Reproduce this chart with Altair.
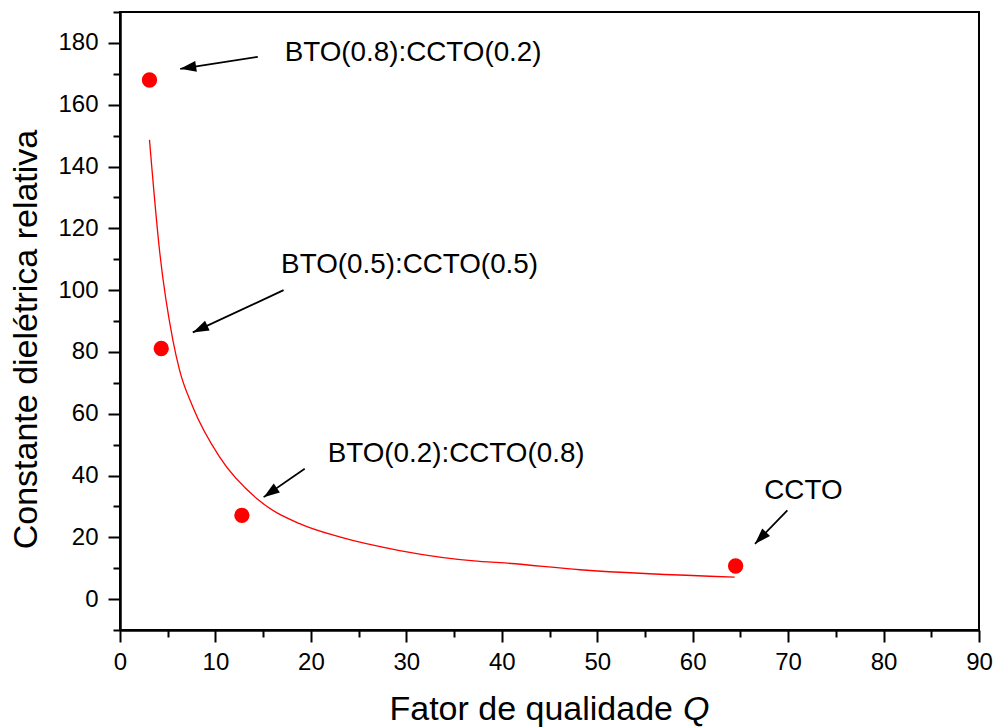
import math
import altair as alt
import pandas as pd

# measured points
pts_x = [3.09, 4.32, 12.77, 64.5]
pts_y = [168.0, 81.1, 27.1, 10.7]

# fitted curve
fit_x = [3.09, 4.14, 5.54, 6.24, 7.63, 10.43, 14.45, 18.82, 23.01, 29.3, 37.7, 39.8, 48.2, 64.4]
fit_y = [148.6, 112.9, 83.8, 74.1, 62.2, 46.0, 32.2, 24.4, 20.1, 15.7, 12.2, 11.8, 9.5, 7.1]

# annotations
ann_text = ["BTO(0.8):CCTO(0.2)", "BTO(0.5):CCTO(0.5)", "BTO(0.2):CCTO(0.8)", "CCTO"]
ann_x = [17.25, 16.88, 21.76, 67.5]
ann_y = [174.0, 105.4, 44.4, 32.5]
tail_x = [14.44, 17.14, 19.35, 69.92]
tail_y = [175.5, 100.0, 42.2, 28.7]
tip_x = [6.31, 7.63, 15.05, 66.53]
tip_y = [171.6, 86.3, 33.0, 17.9]

# tick values
x_major = list(range(0, 100, 10))
x_minor = list(range(5, 90, 10))
y_major = list(range(0, 200, 20))
y_minor = list(range(-10, 200, 20))

X_DOM = [0, 90]
Y_DOM = [-10, 190]
W, H = 859, 618
FONT = "Liberation Sans"

px_per_x = W / (X_DOM[1] - X_DOM[0])
px_per_y = H / (Y_DOM[1] - Y_DOM[0])
angles = []
for tx, ty, hx, hy in zip(tail_x, tail_y, tip_x, tip_y):
    dx = (hx - tx) * px_per_x
    dy = -(hy - ty) * px_per_y
    angles.append(math.degrees(math.atan2(dx, -dy)) % 360)

pts = pd.DataFrame({"x": pts_x, "y": pts_y})
fit = pd.DataFrame({"x": fit_x, "y": fit_y})
ann = pd.DataFrame({"t": ann_text, "x": ann_x, "y": ann_y})
arr = pd.DataFrame({"x": tail_x, "y": tail_y, "x2": tip_x, "y2": tip_y, "ang": angles})

xs = alt.Scale(domain=X_DOM, nice=False, zero=False)
ys = alt.Scale(domain=Y_DOM, nice=False, zero=False)

common = dict(grid=False, domainColor="black", domainWidth=2, tickColor="black", tickWidth=2)

x_axis = alt.Axis(
    values=x_major, tickSize=12, title=None, orient="bottom",
    labelFont=FONT, labelFontSize=24, labelColor="black", labelPadding=8,
    labelFlush=False, labelOverlap=False, **common,
)
y_axis = alt.Axis(
    values=y_major, tickSize=12, orient="left",
    title="Constante dielétrica relativa",
    titleFont=FONT, titleFontSize=34, titleFontWeight="normal", titleColor="black",
    titleX=-84, titleY=327, titleAngle=270, titleAlign="center", titleBaseline="alphabetic",
    labelFont=FONT, labelFontSize=24, labelColor="black", labelPadding=10,
    labelFlush=False, labelOverlap=False, **common,
)
x_axis_minor = alt.Axis(values=x_minor, tickSize=7, labels=False, title=None, orient="bottom", **common)
y_axis_minor = alt.Axis(values=y_minor, tickSize=7, labels=False, title=None, orient="left", **common)

line = alt.Chart(fit).mark_line(color="#ff0000", strokeWidth=1.3, interpolate="monotone").encode(
    x=alt.X("x:Q", scale=xs, axis=x_axis),
    y=alt.Y("y:Q", scale=ys, axis=y_axis),
)
dots = alt.Chart(pts).mark_circle(color="#ff0000", size=235, opacity=1).encode(
    x=alt.X("x:Q", scale=xs, axis=x_axis_minor),
    y=alt.Y("y:Q", scale=ys, axis=y_axis_minor),
)
rules = alt.Chart(arr).mark_rule(color="black", strokeWidth=1.8).encode(
    x=alt.X("x:Q", scale=xs, axis=None), y=alt.Y("y:Q", scale=ys, axis=None), x2="x2:Q", y2="y2:Q"
)
heads = alt.Chart(arr).mark_point(
    shape="M0,0L-0.34,1L0.34,1Z", filled=True, color="black", opacity=1, size=1024
).encode(
    x=alt.X("x2:Q", scale=xs, axis=None), y=alt.Y("y2:Q", scale=ys, axis=None),
    angle=alt.Angle("ang:Q", scale=None),
)
labels = alt.Chart(ann).mark_text(
    align="left", baseline="alphabetic", font=FONT, fontSize=27.8, color="black"
).encode(
    x=alt.X("x:Q", scale=xs, axis=None), y=alt.Y("y:Q", scale=ys, axis=None), text="t:N"
)

xt = pd.DataFrame({"a": ["Fator de qualidade"], "b": ["Q"]})
xtitle1 = alt.Chart(xt).mark_text(
    align="right", baseline="alphabetic", font=FONT, fontSize=34, color="black"
).encode(x=alt.value(553), y=alt.value(708), text="a:N")
xtitle2 = alt.Chart(xt).mark_text(
    align="left", baseline="alphabetic", font=FONT, fontSize=34, fontStyle="italic", color="black"
).encode(x=alt.value(563), y=alt.value(708), text="b:N")

chart = (
    alt.layer(line, dots, rules, heads, labels, xtitle1, xtitle2)
    .resolve_axis(x="independent", y="independent")
    .properties(
        width=W, height=H,
        autosize=alt.AutoSizeParams(type="none"),
        padding={"left": 120, "top": 12, "right": 18, "bottom": 97},
        background="white",
    )
    .configure_view(stroke="black", strokeWidth=2)
)

chart.save("out.html", embed_options={"renderer": "svg", "actions": False})
